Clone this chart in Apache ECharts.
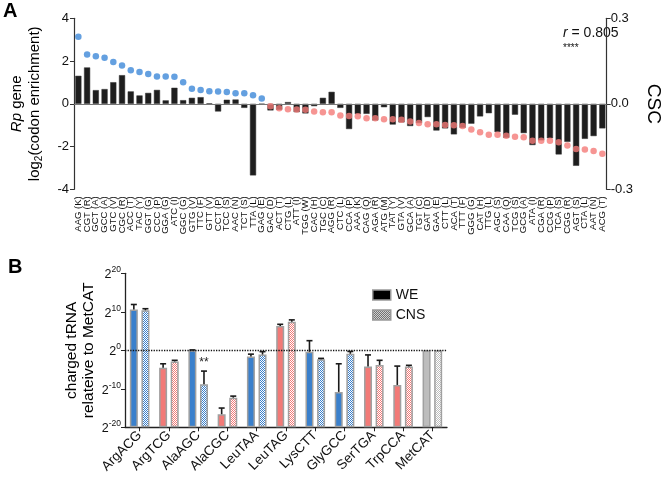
<!DOCTYPE html>
<html>
<head>
<meta charset="utf-8">
<script src="https://cdn.jsdelivr.net/npm/echarts@6/dist/echarts.min.js"></script>
<style>
html,body{margin:0;padding:0;background:#fff;}
#c{width:671px;height:479px;}
</style>
</head>
<body>
<div id="c"></div>
<script>
// ---------- Panel A data ----------
const codons = ['AAG (K)','CGT (R)','GCT (A)','GCC (A)','GTC (V)','CGC (R)','ACC (T)','TAC (Y)','GGT (G)','CCC (P)',
'GGA (G)','ATC (I)','GGC (G)','GTG (V)','TTC (F)','GTT (V)','CCT (P)','TCC (S)','AAC (N)','TCT (S)',
'TTA (L)','GAG (E)','GAC (D)','ACT (T)','CTG (L)','ATT (I)','TGG (W)','CAC (H)','TGC (C)','AGG (R)',
'CTC (L)','CCA (P)','AAA (K)','CAG (Q)','AGA (R)','ATG (M)','TAT (Y)','GTA (V)','GCA (A)','TGT (C)',
'GAT (D)','GAA (E)','CTT (L)','ACA (T)','TTT (F)','GGG (G)','CAT (H)','TTG (L)','AGC (S)','CAA (Q)',
'TCG (S)','GCG (A)','ATA (I)','CGA (R)','CCG (P)','TCA (S)','CGG (R)','AGT (S)','CTA (L)','AAT (N)','ACG (T)'];
const enrichment = [1.31,1.70,0.64,0.69,1.01,1.34,0.58,0.39,0.51,0.65,
0.16,0.75,0.17,0.28,0.31,0.02,-0.36,0.19,0.20,-0.19,
-3.35,-0.02,-0.31,-0.28,0.08,-0.39,-0.45,-0.11,0.28,0.56,
-0.19,-1.18,-0.48,-0.47,-0.78,-0.16,-0.97,-0.87,-1.04,-0.90,
-0.62,-1.25,-1.15,-1.43,-1.12,-0.93,-0.59,-0.44,-1.32,-1.59,
-0.51,-1.37,-1.93,-1.71,-1.61,-2.37,-1.78,-2.90,-1.64,-1.51,-1.15];
const csc = [0.235,0.173,0.167,0.162,0.147,0.134,0.118,0.112,0.105,0.096,
0.096,0.095,0.076,0.053,0.048,0.044,0.043,0.041,0.037,0.037,
0.030,0.019,-0.009,-0.016,-0.019,-0.020,-0.021,-0.027,-0.030,-0.030,
-0.041,-0.043,-0.044,-0.051,-0.051,-0.054,-0.054,-0.056,-0.062,-0.067,
-0.072,-0.072,-0.074,-0.075,-0.078,-0.090,-0.100,-0.109,-0.109,-0.112,
-0.116,-0.117,-0.130,-0.130,-0.130,-0.135,-0.146,-0.159,-0.160,-0.166,-0.175];
const leftTicks = [-4, 4, 2];   // min, max, interval
const rightTicks = [-0.3, 0.3, 0.3];

// ---------- Panel B data (log2 values) ----------
const trna = ['ArgACG','ArgTCG','AlaAGC','AlaCGC','LeuTAA','LeuTAG','LysCTT','GlyGCC','SerTGA','TrpCCA','MetCAT'];
const trnaGroup = ['b','r','b','r','b','r','b','b','r','r','g'];
const weLog2 = [10.6,-4.5,0,-16.6,-1.6,6.3,-0.4,-10.8,-4.2,-9.0,0];
const weErr  = [1.3,1.0,0.1,1.6,0.6,0.45,2.9,7.3,3.0,4.9,0];
const cnsLog2 = [10.4,-2.9,-8.8,-12.3,-1.1,7.4,-2.3,-0.9,-3.8,-4.2,0];
const cnsErr  = [0.4,0.3,3.4,0.4,0.75,0.5,0.2,0.6,1.2,0.3,0];
const bTicks = [-20, 20, 10];
const stars = [{cat:'AlaAGC', series:1, text:'**'}];

// ---------- styling ----------
const BLUE = '#3a80cc', RED = '#f27a77', GRAY = '#bdbdbd';
const DOT_BLUE = '#3d88d8', DOT_RED = '#f47b78';
const colorOf = g => g === 'b' ? BLUE : (g === 'r' ? RED : GRAY);
function checker(c) {
  const cv = document.createElement('canvas');
  cv.width = 2; cv.height = 2;
  const g = cv.getContext('2d');
  g.fillStyle = '#ffffff'; g.fillRect(0,0,2,2);
  g.fillStyle = c; g.fillRect(0,0,1,1); g.fillRect(1,1,1,1);
  return {image: cv, repeat: 'repeat'};
}
const OFF = -bTicks[0]; // shift so bars grow from 2^-20
const FONT = 'Liberation Sans, Arial, sans-serif';

const chart = echarts.init(document.getElementById('c'), null, {renderer:'canvas'});

const weData = weLog2.map((v,i) => ({value: v + OFF, itemStyle: {color: colorOf(trnaGroup[i])}}));
const cnsData = cnsLog2.map((v,i) => ({value: v + OFF, itemStyle: {color: checker(colorOf(trnaGroup[i]))}}));
const errData = [];
weLog2.forEach((v,i) => { if (weErr[i] > 0) errData.push([i, v + OFF, v + weErr[i] + OFF, -1]); });
cnsLog2.forEach((v,i) => { if (cnsErr[i] > 0) errData.push([i, v + OFF, v + cnsErr[i] + OFF, 1]); });
const starData = stars.map(s => {
  const i = trna.indexOf(s.cat);
  const v = s.series === 1 ? cnsLog2[i] + cnsErr[i] : weLog2[i] + weErr[i];
  return {value:[i, v + OFF, s.series === 1 ? 1 : -1], text: s.text};
});
const HALF = 5.8;

const option = {
  animation: false,
  backgroundColor: '#fff',
  textStyle: {fontFamily: FONT},
  grid: [
    {left: 62, right: 43, top: 18.3, height: 171},
    {left: 125, width: 322, top: 273.3, height: 154}
  ],
  xAxis: [
    {type:'category', gridIndex:0, data: codons,
     axisLine:{show:false, onZero:false}, axisTick:{show:false},
     axisLabel:{rotate:90, fontSize:9.5, color:'#111', margin:7, interval:0, fontFamily: FONT}},
    {type:'category', gridIndex:1, data: trna,
     axisLine:{show:true, lineStyle:{color:'#222', width:1.3}},
     axisTick:{show:true, alignWithLabel:true, length:4, lineStyle:{color:'#222'}},
     axisLabel:{rotate:45, fontSize:13.5, color:'#111', margin:6, interval:0, fontFamily: FONT}}
  ],
  yAxis: [
    {type:'value', gridIndex:0, min:leftTicks[0], max:leftTicks[1], interval:leftTicks[2],
     splitLine:{show:false},
     axisLine:{show:true, lineStyle:{color:'#333', width:1.2}},
     axisTick:{show:true, length:4, lineStyle:{color:'#333'}},
     axisLabel:{fontSize:13, color:'#111', margin:5},
     name:'{it|Rp} gene\nlog{sub|2}(codon enrichment)', nameLocation:'middle', nameRotate:90, nameGap:30,
     nameTextStyle:{fontSize:15, color:'#000', lineHeight:18, align:'center',
       rich:{it:{fontStyle:'italic', fontSize:15, lineHeight:18}, sub:{fontSize:10, verticalAlign:'bottom', lineHeight:14}}}},
    {type:'value', gridIndex:0, position:'right', min:rightTicks[0], max:rightTicks[1], interval:rightTicks[2],
     splitLine:{show:false},
     axisLine:{show:true, lineStyle:{color:'#333', width:1.2}},
     axisTick:{show:true, length:4, lineStyle:{color:'#333'}},
     axisLabel:{fontSize:13, color:'#111', margin:4, formatter: v => v.toFixed(1)},
     name:'CSC', nameLocation:'middle', nameRotate:-90, nameGap:27,
     nameTextStyle:{fontSize:19, color:'#000'}},
    {type:'value', gridIndex:1, min:bTicks[0]+OFF, max:bTicks[1]+OFF, interval:bTicks[2],
     splitLine:{show:false},
     axisLine:{show:true, lineStyle:{color:'#222', width:1.3}},
     axisTick:{show:true, length:4, lineStyle:{color:'#222'}},
     axisLabel:{margin:4, color:'#111', formatter: v => '{b|2}{s|' + (v - OFF) + '}',
       rich:{b:{fontSize:12.5, lineHeight:16, verticalAlign:'bottom'}, s:{fontSize:8.5, lineHeight:16, verticalAlign:'top'}}},
     name:'charged tRNA\nrelateive to MetCAT', nameLocation:'middle', nameRotate:90, nameGap:28,
     nameTextStyle:{fontSize:15.5, color:'#000', lineHeight:17}}
  ],
  legend: {
    show:true, orient:'vertical', left:367, top:283, itemWidth:18, itemHeight:10, itemGap:6,
    textStyle:{fontSize:14, color:'#111'}, icon:'rect',
    data:[
      {name:'WE', itemStyle:{color:'#000', borderColor:'#999', borderWidth:1.5}},
      {name:'CNS', itemStyle:{color: checker('#444'), borderColor:'#999', borderWidth:1.5}}
    ]
  },
  graphic: [
    {type:'text', left:3, top:1, style:{text:'A', font:'bold 20px ' + FONT, fill:'#000'}},
    {type:'text', left:8, top:257, style:{text:'B', font:'bold 20px ' + FONT, fill:'#000'}},
    {type:'text', left:563, top:26, style:{text:'{i|r} = 0.805', font:'14px ' + FONT, fill:'#111',
      rich:{i:{fontStyle:'italic', fontSize:14, fontFamily:FONT}}}},
    {type:'text', left:563, top:43, style:{text:'****', font:'10px ' + FONT, fill:'#111'}}
  ],
  series: [
    {type:'bar', name:'enrichment', xAxisIndex:0, yAxisIndex:0, data: enrichment, barWidth:'70%',
     itemStyle:{color:'#1e1e1e', borderColor:'#333', borderWidth:0.5},
     markLine:{silent:true, symbol:'none', label:{show:false},
       lineStyle:{color:'#777', width:1.2, type:'solid'}, data:[{yAxis:0}]}},
    {type:'scatter', name:'csc', xAxisIndex:0, yAxisIndex:1, data: csc, symbolSize:6.5, z:5,
     itemStyle:{color: p => p.value > 0 ? DOT_BLUE : DOT_RED}},
    {type:'bar', name:'WE', xAxisIndex:1, yAxisIndex:2, data: weData, barWidth:8, barGap:'45%',
     itemStyle:{color:'#000', borderColor:'#a0a0a0', borderWidth:1.5},
     markLine:{silent:true, symbol:'none', label:{show:false},
       lineStyle:{color:'#111', width:1.3, type:'dotted'}, data:[{yAxis: OFF}]}},
    {type:'bar', name:'CNS', xAxisIndex:1, yAxisIndex:2, data: cnsData, barWidth:8, barGap:'45%',
     itemStyle:{color:'#444', borderColor:'#a0a0a0', borderWidth:1.5}},
    {type:'custom', name:'err', xAxisIndex:1, yAxisIndex:2, data: errData, z:10,
     renderItem: function(params, api) {
       const c = api.value(0), base = api.value(1), top = api.value(2), side = api.value(3);
       const p1 = api.coord([c, base]); const p2 = api.coord([c, top]);
       const x = p1[0] + side * HALF;
       const st = {stroke:'#1a1a1a', lineWidth:1.6};
       return {type:'group', children:[
         {type:'line', shape:{x1:x, y1:p1[1], x2:x, y2:p2[1]}, style:st},
         {type:'line', shape:{x1:x-3, y1:p2[1], x2:x+3, y2:p2[1]}, style:st}
       ]};
     }},
    {type:'custom', name:'stars', xAxisIndex:1, yAxisIndex:2, data: starData, z:11,
     renderItem: function(params, api) {
       const c = api.value(0), v = api.value(1), side = api.value(2);
       const p = api.coord([c, v]);
       return {type:'text', style:{text: starData[params.dataIndex].text, x: p[0] + side*HALF, y: p[1] - 2,
         align:'center', verticalAlign:'bottom', font:'12px ' + FONT, fill:'#222'}};
     }}
  ]
};
chart.setOption(option);
</script>
</body>
</html>
